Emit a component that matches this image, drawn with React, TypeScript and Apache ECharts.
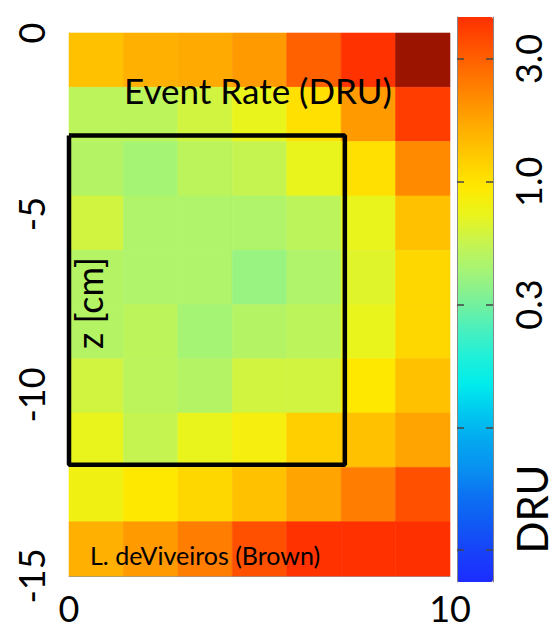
import React, { useEffect, useRef } from "react";
import * as echarts from "echarts";

// Event rate in DRU, rows from z = 0 (top) down to z = -15, columns from r = 0 to r = 10
const rateRows: number[][] = [
  [1.38, 1.62, 1.71, 1.95, 3.15, 4.6, 6.5],
  [0.52, 0.52, 0.61, 0.73, 1.03, 1.95, 4.2],
  [0.49, 0.44, 0.52, 0.56, 0.73, 1.03, 2.23],
  [0.61, 0.47, 0.47, 0.47, 0.52, 0.73, 1.38],
  [0.49, 0.47, 0.47, 0.4, 0.47, 0.68, 1.12],
  [0.49, 0.52, 0.44, 0.49, 0.52, 0.73, 1.12],
  [0.61, 0.52, 0.49, 0.61, 0.61, 0.955, 1.38],
  [0.73, 0.56, 0.73, 0.84, 1.21, 1.38, 1.8],
  [0.8, 0.955, 1.12, 1.38, 1.8, 2.48, 3.59],
  [1.62, 1.95, 2.48, 3.59, 4.6, 4.65, 4.68],
];
const rMax = 10;
const zMin = -15;
const nCols = 7;
const nRows = 10;

// fiducial box (r, z)
const boxR = [0, 7.24];
const boxZ = [-2.83, -11.93];

// colour scale (log10 DRU)
const cbarMinExp = -1.63;
const cbarMaxExp = 0.671;
const cbarTickExps = [0.5, 0, -0.5, -1, -1.5];
const cbarTickLabels = ["3.0", "1.0", "0.3", "", ""];
const cbarColors = [
  "#1c2cff", "#1840fa", "#1058f4", "#0c70f2", "#0890f0", "#04a8f0", "#00c8f0",
  "#00ecec", "#20f0d8", "#4cf0bc", "#7cf098", "#a4f476", "#c6f450", "#eaf41c",
  "#ffe800", "#ffcc00", "#ffb000", "#ff9000", "#ff7000", "#ff5000", "#ff3000",
];

const xTicks = [0, 10];
const yTicks = [0, -5, -10, -15];

const FONT = "Lato, 'Open Sans', sans-serif";

export default function App() {
  const ref = useRef<HTMLDivElement>(null);
  useEffect(() => {
    if (!ref.current) return;
    const chart = echarts.init(ref.current, null, { renderer: "svg" });
    const dx = rMax / nCols;
    const dz = -zMin / nRows;
    const cells: number[][] = [];
    rateRows.forEach((row, j) => {
      row.forEach((v, i) => {
        cells.push([i * dx, (i + 1) * dx, -j * dz, -(j + 1) * dz, Math.log10(v), v]);
      });
    });
    const boxData = [
      [boxR[0], boxZ[0]],
      [boxR[1], boxZ[0]],
      [boxR[1], boxZ[1]],
      [boxR[0], boxZ[1]],
      [boxR[0], boxZ[0]],
    ];
    const labelLookup = (v: number) => {
      const k = cbarTickExps.findIndex((e) => Math.abs(e - v) < 1e-6);
      return k >= 0 ? cbarTickLabels[k] : "";
    };
    const cbarTick = {
      show: true,
      inside: true,
      length: 7,
      customValues: cbarTickExps,
      lineStyle: { color: "#444", width: 1.5 },
    };
    chart.setOption({
      animation: false,
      textStyle: { fontFamily: FONT },
      grid: [
        { left: 69, top: 33, width: 381, height: 543 },
        { left: 457, top: 17, width: 36, height: 565 },
      ],
      xAxis: [
        {
          type: "value",
          gridIndex: 0,
          min: 0,
          max: rMax,
          interval: 10,
          splitLine: { show: false },
          axisTick: { show: false },
          axisLine: { show: true, onZero: false, lineStyle: { color: "#999", width: 1 } },
          axisLabel: {
            fontSize: 36,
            color: "#000",
            fontFamily: FONT,
            margin: 14,
            customValues: xTicks,
          },
        },
        { type: "value", gridIndex: 1, min: 0, max: 1, show: false },
      ],
      yAxis: [
        {
          type: "value",
          gridIndex: 0,
          min: zMin,
          max: 0,
          interval: 5,
          splitLine: { show: false },
          axisTick: { show: false },
          axisLine: { show: true, onZero: false, lineStyle: { color: "#999", width: 1 } },
          axisLabel: {
            fontSize: 36,
            color: "#000",
            fontFamily: FONT,
            rotate: 90,
            margin: 20,
            customValues: yTicks,
          },
        },
        {
          type: "value",
          gridIndex: 1,
          position: "left",
          z: 20,
          min: cbarMinExp,
          max: cbarMaxExp,
          splitLine: { show: false },
          axisLine: { show: true, lineStyle: { color: "#888", width: 1 } },
          axisTick: cbarTick,
          axisLabel: { show: false },
        },
        {
          type: "value",
          gridIndex: 1,
          position: "right",
          z: 20,
          min: cbarMinExp,
          max: cbarMaxExp,
          splitLine: { show: false },
          axisLine: { show: true, lineStyle: { color: "#888", width: 1 } },
          axisTick: cbarTick,
          axisLabel: {
            show: true,
            rotate: 90,
            fontSize: 36,
            color: "#000",
            fontFamily: FONT,
            margin: 17,
            customValues: cbarTickExps.slice(0, 3),
            formatter: (v: number) => labelLookup(v),
          },
        },
      ],
      visualMap: {
        type: "continuous",
        seriesIndex: 0,
        dimension: 4,
        min: cbarMinExp,
        max: cbarMaxExp,
        range: [cbarMinExp, 0.6705],
        calculable: false,
        realtime: false,
        orient: "vertical",
        left: 457,
        top: 17,
        z: 1,
        padding: 0,
        itemWidth: 36,
        itemHeight: 565,
        text: null,
        showLabel: false,
        hoverLink: false,
        inRange: { color: cbarColors },
        outOfRange: { color: "#9a1400" },
      },
      series: [
        {
          type: "custom",
          xAxisIndex: 0,
          yAxisIndex: 0,
          encode: { x: [0, 1], y: [2, 3] },
          data: cells,
          renderItem: (params: any, api: any) => {
            const p0 = api.coord([api.value(0), api.value(2)]);
            const p1 = api.coord([api.value(1), api.value(3)]);
            const c = api.visual("color");
            return {
              type: "rect",
              shape: {
                x: p0[0],
                y: p0[1],
                width: p1[0] - p0[0],
                height: p1[1] - p0[1],
              },
              style: { fill: c, stroke: c, lineWidth: 0.6 },
            };
          },
          z: 2,
        },
        {
          type: "line",
          xAxisIndex: 0,
          yAxisIndex: 0,
          data: boxData,
          symbol: "none",
          clip: false,
          lineStyle: { color: "#000", width: 4.5 },
          z: 5,
        },
      ],
      graphic: [
        {
          type: "text",
          x: 258,
          y: 90,
          z: 100,
          style: {
            text: "Event Rate (DRU)",
            fontSize: 35,
            fontFamily: FONT,
            fill: "#000",
            textAlign: "center",
            textVerticalAlign: "middle",
          },
        },
        {
          type: "text",
          x: 90,
          y: 555,
          z: 100,
          style: {
            text: "L. deViveiros (Brown)",
            fontSize: 25,
            fontFamily: FONT,
            fill: "#000",
            textAlign: "left",
            textVerticalAlign: "middle",
          },
        },
        {
          type: "text",
          x: 89,
          y: 303,
          z: 100,
          rotation: Math.PI / 2,
          style: {
            text: "z [cm]",
            fontSize: 36,
            fontFamily: FONT,
            fill: "#000",
            textAlign: "center",
            textVerticalAlign: "middle",
          },
        },
        {
          type: "text",
          x: 532,
          y: 509,
          z: 100,
          rotation: Math.PI / 2,
          style: {
            text: "DRU",
            fontSize: 42,
            fontFamily: FONT,
            fill: "#000",
            textAlign: "center",
            textVerticalAlign: "middle",
          },
        },
      ],
    });
    return () => chart.dispose();
  }, []);
  return (
    <div
      ref={ref}
      style={{ position: "fixed", left: 0, top: 0, width: 558, height: 638, background: "#fff" }}
    />
  );
}
